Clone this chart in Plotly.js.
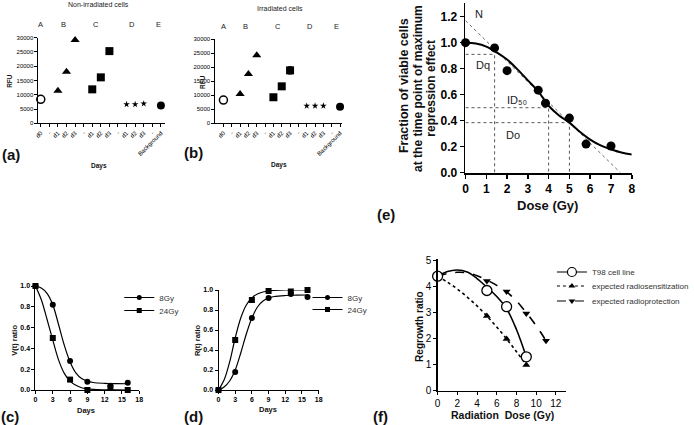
<!DOCTYPE html>
<html>
<head>
<meta charset="utf-8">
<script src="https://cdn.plot.ly/plotly-3.0.1.min.js"></script>
<style>
html, body { margin: 0; padding: 0; background: #fff; }
#chart { width: 694px; height: 425px; }
</style>
</head>
<body>
<div id="chart"></div>
<script>
const W = 694;
const H = 425;
const FONT = 'Liberation Sans, Arial, sans-serif';

// (a) / (b) RFU per day
const dayTicks = ['d0', '-', 'd1', 'd2', 'd3', '-', 'd1', 'd2', 'd3', '-', 'd1', 'd2', 'd3', '-', 'Background'];
const posA = [0];
const posB = [2, 3, 4];
const posC = [6, 7, 8];
const posD = [10, 11, 12];
const posE = [14];
const groupLetters = ['A', 'B', 'C', 'D', 'E'];

const nonIrrA = [8400];
const nonIrrB = [11400, 18100, 29200];
const nonIrrC = [11900, 16100, 25300];
const nonIrrD = [6650, 6650, 6870];
const nonIrrE = [6200];

const irrA = [8300];
const irrB = [10500, 17600, 24300];
const irrC = [9300, 13200, 18900];
const irrCErr = [0, 0, 1300];
const irrD = [6200, 6250, 6250];
const irrE = [5950];

// (e) fraction of viable cells vs dose
const doseE = [0, 1.4, 2, 3.5, 3.85, 5, 5.8, 7];
const fracE = [1.0, 0.96, 0.785, 0.635, 0.535, 0.42, 0.22, 0.205];
const doseFit = [0, 0.5, 1, 1.5, 2, 2.5, 3, 3.5, 4, 4.5, 5, 5.5, 6, 6.5, 7, 7.5, 8];
const fracFit = [1.0, 0.993, 0.97, 0.925, 0.87, 0.795, 0.71, 0.625, 0.515, 0.44, 0.385, 0.315, 0.255, 0.21, 0.18, 0.155, 0.14];
const tangentDose = [0, 7.45];
const tangentFrac = [1.17, 0];
const refNames = ['Dq', 'ID50', 'Do'];
const refDose = [1.4, 4, 5];
const refFrac = [0.91, 0.5, 0.385];

// (c) V(t) ratio and (d) R(t) ratio
const days = [0, 3, 6, 9, 13, 16];
const v8Gy = [1.0, 0.82, 0.28, 0.08, 0.04, 0.07];
const v24Gy = [1.0, 0.5, 0.1, 0.0, 0.02, 0.0];
const r8Gy = [0, 0.18, 0.72, 0.92, 0.96, 0.93];
const r24Gy = [0, 0.5, 0.9, 0.99, 0.985, 1.0];
const fitDays = [0, 1, 2, 3, 4, 5, 6, 7, 8, 9, 10, 12, 14, 16];
const v8GyFit = [1.0, 0.98, 0.93, 0.82, 0.63, 0.43, 0.27, 0.165, 0.11, 0.085, 0.072, 0.064, 0.061, 0.06];
const v24GyFit = [1.0, 0.87, 0.68, 0.48, 0.29, 0.16, 0.085, 0.045, 0.022, 0.012, 0.006, 0.002, 0.001, 0.0];
const r8GyFit = [0, 0.03, 0.09, 0.2, 0.37, 0.56, 0.72, 0.83, 0.89, 0.92, 0.935, 0.945, 0.948, 0.95];
const r24GyFit = [0, 0.1, 0.28, 0.52, 0.72, 0.85, 0.92, 0.96, 0.98, 0.99, 0.995, 1.0, 1.0, 1.0];

// (f) regrowth ratio vs radiation dose
const doseF = [0, 5, 7, 9];
const t98 = [4.4, 3.85, 3.23, 1.3];
const radioSens = [4.4, 2.87, 1.99, 0.99];
const doseProt = [0, 5, 7, 9, 11];
const radioProt = [4.4, 4.22, 3.81, 2.97, 1.92];
const fitDoseF = [0, 1, 2, 3, 4, 5, 6, 7, 8, 9];
const t98Fit = [4.4, 4.58, 4.64, 4.56, 4.31, 3.98, 3.62, 3.15, 2.35, 1.3];
const radioSensFit = [4.4, 4.17, 3.91, 3.6, 3.26, 2.87, 2.45, 1.99, 1.5, 0.99];
const fitDoseProt = [0, 1, 2, 3, 4, 5, 6, 7, 8, 9, 10, 11];
const radioProtFit = [4.4, 4.5, 4.55, 4.53, 4.42, 4.25, 4.05, 3.8, 3.45, 3.0, 2.5, 1.92];

const fx = (px) => px / W;
const fy = (py) => 1 - py / H;

function axis(extra) {
    return Object.assign({
        showline: true,
        linecolor: '#000',
        linewidth: 1,
        ticks: 'outside',
        ticklen: 3,
        tickwidth: 1,
        tickcolor: '#000',
        showgrid: false,
        zeroline: false,
        fixedrange: true,
        tickfont: { family: FONT, size: 6, color: '#000' },
    }, extra);
}

function dots(x, y, xa, ya, symbol, size, extra) {
    return Object.assign({
        x, y, xaxis: xa, yaxis: ya,
        type: 'scatter', mode: 'markers', showlegend: false, cliponaxis: false,
        marker: { symbol, size, color: '#000', line: { width: 0 } },
    }, extra);
}

function curve(x, y, xa, ya, dash, width, extra) {
    return Object.assign({
        x, y, xaxis: xa, yaxis: ya,
        type: 'scatter', mode: 'lines', showlegend: false, cliponaxis: false,
        line: { color: '#000', width, dash, shape: 'spline', smoothing: 1 },
    }, extra);
}

const openCircle = { symbol: 'circle-open', size: 8, color: '#000', line: { width: 1.5 } };

function rfuTraces(xa, ya, a, b, c, d, e, cErr) {
    const list = [
        dots(posA, a, xa, ya, 'circle-open', 8, { marker: openCircle }),
        dots(posB, b, xa, ya, 'triangle-up', 8),
        dots(posC, c, xa, ya, 'square', 8),
        dots(posD, d, xa, ya, 'star', 5),
        dots(posE, e, xa, ya, 'circle', 8),
    ];
    if (cErr) {
        list[2].error_y = { type: 'data', array: cErr, visible: true, color: '#000', thickness: 1, width: 2 };
    }
    return list;
}

const traces = [];
traces.push(...rfuTraces('x', 'y', nonIrrA, nonIrrB, nonIrrC, nonIrrD, nonIrrE));
traces.push(...rfuTraces('x2', 'y2', irrA, irrB, irrC, irrD, irrE, irrCErr));

// (e)
traces.push(curve(tangentDose, tangentFrac, 'x3', 'y3', 'dot', 0.8, { line: { color: '#444', width: 0.8, dash: 'dot' } }));
refDose.forEach((d, i) => {
    traces.push(curve([0, d, d], [refFrac[i], refFrac[i], 0], 'x3', 'y3', 'dot', 0.9,
        { line: { color: '#444', width: 0.9, dash: 'dot' }, name: refNames[i] }));
});
traces.push(curve(doseFit, fracFit, 'x3', 'y3', 'solid', 2));
traces.push(dots(doseE, fracE, 'x3', 'y3', 'circle', 9));

// (c)
traces.push(curve(fitDays, v8GyFit, 'x4', 'y4', 'solid', 1.2));
traces.push(curve(fitDays, v24GyFit, 'x4', 'y4', 'solid', 1.2));
traces.push(dots(days, v8Gy, 'x4', 'y4', 'circle', 6));
traces.push(dots(days, v24Gy, 'x4', 'y4', 'square', 6));

// (d)
traces.push(curve(fitDays, r8GyFit, 'x5', 'y5', 'solid', 1.2));
traces.push(curve(fitDays, r24GyFit, 'x5', 'y5', 'solid', 1.2));
traces.push(dots(days, r8Gy, 'x5', 'y5', 'circle', 6));
traces.push(dots(days, r24Gy, 'x5', 'y5', 'square', 6));

// (f)
traces.push(curve(fitDoseF, t98Fit, 'x6', 'y6', 'solid', 1.6));
traces.push(curve(fitDoseF, radioSensFit, 'x6', 'y6', 'dot', 1.6));
traces.push(curve(fitDoseProt, radioProtFit, 'x6', 'y6', 'dash', 1.6));
traces.push(dots(doseF, radioSens, 'x6', 'y6', 'triangle-up', 7));
traces.push(dots(doseProt, radioProt, 'x6', 'y6', 'triangle-down', 7));
traces.push(dots(doseF, t98, 'x6', 'y6', 'circle', 10, { marker: { symbol: 'circle', size: 10, color: '#fff', line: { color: '#000', width: 1.3 } } }));

// legend keys, one legend per row so the rows sit close together
function key(name, xa, ya, legend, symbol, size, dash, markerExtra) {
    return {
        x: [null], y: [null], xaxis: xa, yaxis: ya, name, legend,
        type: 'scatter', mode: 'lines+markers',
        line: { color: '#000', width: 1.2, dash },
        marker: Object.assign({ symbol, size, color: '#000' }, markerExtra),
    };
}
traces.push(key('8Gy', 'x4', 'y4', 'legend', 'circle', 5, 'solid'));
traces.push(key('24Gy', 'x4', 'y4', 'legend2', 'square', 5, 'solid'));
traces.push(key('8Gy', 'x5', 'y5', 'legend3', 'circle', 5, 'solid'));
traces.push(key('24Gy', 'x5', 'y5', 'legend4', 'square', 5, 'solid'));
traces.push(key('T98 cell line', 'x6', 'y6', 'legend5', 'circle', 9, 'solid', { color: '#fff', line: { color: '#000', width: 1.2 } }));
traces.push(key('expected radiosensitization', 'x6', 'y6', 'legend6', 'triangle-up', 6, 'dot'));
traces.push(key('expected radioprotection', 'x6', 'y6', 'legend7', 'triangle-down', 6, 'dash'));

function note(text, px, py, size, extra) {
    return Object.assign({
        text, x: fx(px), y: fy(py), xref: 'paper', yref: 'paper',
        showarrow: false, xanchor: 'center', yanchor: 'middle',
        font: { family: FONT, size, color: '#222' },
    }, extra);
}
const bold = (size, extra) => Object.assign({ font: { family: FONT, size, color: '#111', weight: 'bold' } }, extra);

const annotations = [
    note('Non-irradiated cells', 100, 5, 7),
    note('Irradiated cells', 284.5, 8.5, 7),
    note('RFU', 10, 81, 6.5, bold(6.5, { textangle: -90 })),
    note('RFU', 206, 82, 6.5, bold(6.5, { textangle: -90 })),
    note('Days', 100, 166, 6.5, bold(6.5)),
    note('Days', 283, 164.5, 6.5, bold(6.5)),
    note('(a)', 11, 154.5, 15, bold(15)),
    note('(b)', 196, 152, 15, bold(15)),
    note('Fraction of viable cells', 410, 86, 12.5, bold(12.5, { textangle: -90 })),
    note('at the time point of maximum', 424, 88, 12, bold(12, { textangle: -90 })),
    note('repression effect', 437, 88, 12, bold(12, { textangle: -90 })),
    note('Dose (Gy)', 555, 205, 13, bold(13)),
    note('(e)', 392, 214, 15, bold(15)),
    note('V(t) ratio', 14, 340, 7.5, bold(7.5, { textangle: -90 })),
    note('R(t) ratio', 200, 340, 7.5, bold(7.5, { textangle: -90 })),
    note('Days', 87, 410, 7.5, bold(7.5)),
    note('Days', 272, 409, 7.5, bold(7.5)),
    note('(c)', 10, 416, 15, bold(15)),
    note('(d)', 196, 416, 15, bold(15)),
    note('(f)', 386, 416, 15, bold(15)),
    note('Regrowth ratio', 425, 326, 10, bold(10, { textangle: -90 })),
    note('Radiation\u00a0 Dose (Gy)', 510, 415, 10.5, bold(10.5)),
];
const lettersA = [41.3, 64.3, 97.7, 134.3, 161.3];
const lettersB = [227, 249, 281.7, 315, 341.7];
groupLetters.forEach((g, i) => {
    annotations.push(note(g, lettersA[i], 24.5, 7.5));
    annotations.push(note(g, lettersB[i], 27, 7.5));
});
const eLabels = [['N', 0.65, 1.22], ['Dq', 0.84, 0.825], ['ID\u2085\u2080', 2.5, 0.56], ['Do', 2.29, 0.29]];
eLabels.forEach(([t, x, y]) => {
    annotations.push({ text: t, x, y, xref: 'x3', yref: 'y3', showarrow: false,
        font: { family: FONT, size: 11, color: '#222' } });
});

const rfuY = (d0, d1) => axis({ domain: [fy(d1), fy(d0)], range: [0, 30000], dtick: 5000, tickformat: 'd' });
const dayX = (d0, d1, r, anchor) => axis({
    domain: [fx(d0), fx(d1)], range: r, anchor,
    tickvals: dayTicks.map((_, i) => i), ticktext: dayTicks, tickangle: -45,
});
const boldTick = (size) => ({ family: FONT, size, color: '#000', weight: 'bold' });

function legendAt(px, py, size) {
    return {
        x: fx(px), y: fy(py), xanchor: 'left', yanchor: 'top', bgcolor: 'rgba(0,0,0,0)',
        itemwidth: 30, tracegroupgap: 0, itemclick: false, itemdoubleclick: false,
        font: { family: FONT, size, color: '#333' },
    };
}

const layout = {
    width: W,
    height: H,
    margin: { l: 0, r: 0, t: 0, b: 0 },
    paper_bgcolor: '#fff',
    plot_bgcolor: 'rgba(0,0,0,0)',
    font: { family: FONT, color: '#000' },
    showlegend: true,
    xaxis: dayX(39, 167, [-0.27, 14.43], 'y'),
    yaxis: Object.assign(rfuY(37.7, 123.3), { anchor: 'x' }),
    xaxis2: dayX(218.5, 346.7, [-0.97, 14.2], 'y2'),
    yaxis2: Object.assign(rfuY(39.3, 123.3), { anchor: 'x2' }),
    xaxis3: axis({ domain: [fx(472.3), fx(641)], range: [0, 8], dtick: 1, anchor: 'y3',
        linewidth: 1.8, tickwidth: 1.5, ticklen: 4, tickfont: boldTick(12) }),
    yaxis3: axis({ domain: [fy(172.7), fy(3.3)], range: [0, 1.303], tickvals: [0, 0.2, 0.4, 0.6, 0.8, 1.0, 1.2],
        tickformat: '.1f', anchor: 'x3', linewidth: 1.8, tickwidth: 1.5, ticklen: 4, tickfont: boldTick(12) }),
    xaxis4: axis({ domain: [fx(36), fx(141.3)], range: [0, 18], dtick: 3, anchor: 'y4', tickfont: boldTick(7) }),
    yaxis4: axis({ domain: [fy(390), fy(286)], range: [0, 1], dtick: 0.2, tickformat: '.1f', anchor: 'x4', tickfont: boldTick(7) }),
    xaxis5: axis({ domain: [fx(221.7), fx(323.3)], range: [0, 18], dtick: 3, anchor: 'y5', tickfont: boldTick(7) }),
    yaxis5: axis({ domain: [fy(390), fy(290)], range: [0, 1], dtick: 0.2, tickformat: '.1f', anchor: 'x5', tickfont: boldTick(7) }),
    xaxis6: axis({ domain: [fx(444), fx(574)], range: [0, 13], tickvals: [0, 2, 4, 6, 8, 10, 12], anchor: 'y6',
        tickfont: { family: FONT, size: 10, color: '#000' }, linewidth: 1.2 }),
    yaxis6: axis({ domain: [fy(390.7), fy(259.3)], range: [0, 5.05], tickvals: [0, 1, 2, 3, 4, 5], anchor: 'x6',
        tickfont: { family: FONT, size: 10, color: '#000' }, linewidth: 1.2 }),
    legend: legendAt(121, 283, 8),
    legend2: legendAt(121, 296, 8),
    legend3: legendAt(312, 283, 8),
    legend4: legendAt(312, 295, 8),
    legend5: legendAt(560, 257.5, 8),
    legend6: legendAt(560, 271.5, 8),
    legend7: legendAt(560, 286.5, 8),
    annotations,
};

Plotly.newPlot('chart', traces, layout, { displayModeBar: false, staticPlot: true });
</script>
</body>
</html>
